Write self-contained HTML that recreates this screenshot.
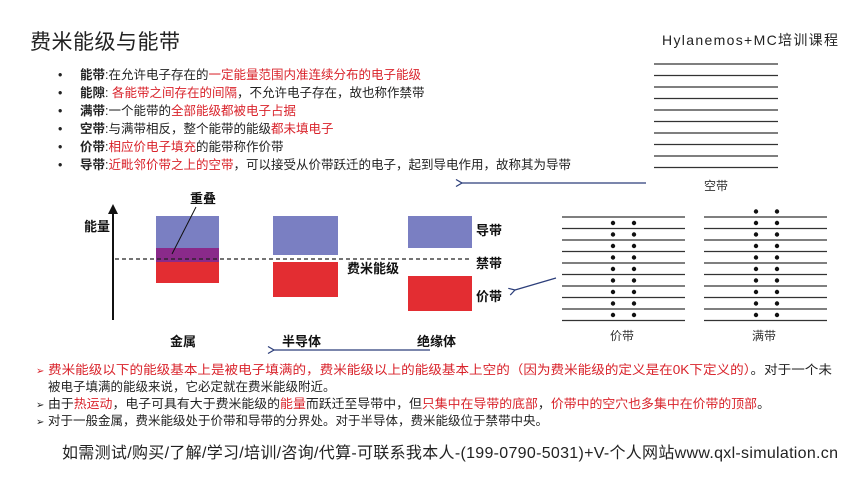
<!DOCTYPE html>
<html><head><meta charset="utf-8"><style>
html,body{margin:0;padding:0;background:#fff}
svg{display:block}
text{font-family:"Liberation Sans","Noto Sans CJK SC",sans-serif}
.r{fill:#d9232b}
.b{font-weight:bold}
</style></head><body>
<svg width="860" height="484" viewBox="0 0 860 484" xmlns="http://www.w3.org/2000/svg">
<defs>
<marker id="ah" markerWidth="8" markerHeight="8" refX="1" refY="4" orient="auto" markerUnits="userSpaceOnUse">
<path d="M7,0.5 L1,4 L7,7.5" fill="none" stroke="#2c3e7a" stroke-width="1.2"/></marker>
</defs>
<text x="30" y="49" font-size="21" fill="#222" textLength="150">费米能级与能带</text>
<text x="662" y="45" font-size="14" fill="#222" textLength="176">Hylanemos+MC培训课程</text>

<g font-size="12.5" fill="#222">
<text x="58" y="79">•</text><text x="80" y="79"><tspan class="b">能带</tspan>:在允许电子存在的<tspan class="r">一定能量范围内准连续分布的电子能级</tspan></text>
<text x="58" y="97">•</text><text x="80" y="97"><tspan class="b">能隙</tspan>: <tspan class="r">各能带之间存在的间隔</tspan>，不允许电子存在，故也称作禁带</text>
<text x="58" y="115">•</text><text x="80" y="115"><tspan class="b">满带</tspan>:一个能带的<tspan class="r">全部能级都被电子占据</tspan></text>
<text x="58" y="133">•</text><text x="80" y="133"><tspan class="b">空带</tspan>:与满带相反，整个能带的能级<tspan class="r">都未填电子</tspan></text>
<text x="58" y="151">•</text><text x="80" y="151"><tspan class="b">价带</tspan>:<tspan class="r">相应价电子填充</tspan>的能带称作价带</text>
<text x="58" y="169">•</text><text x="80" y="169"><tspan class="b">导带</tspan>:<tspan class="r">近毗邻价带之上的空带</tspan>，可以接受从价带跃迁的电子，起到导电作用，故称其为导带</text>
</g>

<line x1="646" y1="183" x2="462" y2="183" stroke="#2c3e7a" stroke-width="1.2" marker-end="url(#ah)"/>
<line x1="556" y1="278" x2="515" y2="290" stroke="#2c3e7a" stroke-width="1.2" marker-end="url(#ah)"/>
<line x1="430" y1="350" x2="274" y2="350" stroke="#2c3e7a" stroke-width="1.2" marker-end="url(#ah)"/>

<line x1="113" y1="320" x2="113" y2="212" stroke="#111" stroke-width="2"/>
<path d="M108,214 L113,204 L118,214Z" fill="#111"/>
<text x="84" y="231" font-size="13" fill="#111" font-weight="bold">能量</text>
<rect x="156" y="216" width="63" height="32" fill="#7a7fc2"/>
<rect x="156" y="248" width="63" height="14" fill="#8a2a8a"/>
<rect x="156" y="262" width="63" height="21" fill="#e32d32"/>
<rect x="273" y="216" width="65" height="39" fill="#7a7fc2"/>
<rect x="273" y="262" width="65" height="35" fill="#e32d32"/>
<rect x="408" y="216" width="64" height="32" fill="#7a7fc2"/>
<rect x="408" y="276" width="64" height="35" fill="#e32d32"/>
<line x1="115" y1="259" x2="472" y2="259" stroke="#222" stroke-width="1.2" stroke-dasharray="4,3"/>
<line x1="196" y1="207" x2="172" y2="254" stroke="#111" stroke-width="1"/>
<g font-size="13" fill="#111" font-weight="bold">
<text x="190" y="203">重叠</text>
<text x="347" y="273">费米能级</text>
<text x="476" y="235">导带</text>
<text x="476" y="268">禁带</text>
<text x="476" y="301">价带</text>
<text x="170" y="346">金属</text>
<text x="282" y="346">半导体</text>
<text x="417" y="346">绝缘体</text>
</g>

<g stroke="#333" stroke-width="1.2">
<line x1="654" x2="778" y1="64" y2="64"/><line x1="654" x2="778" y1="75.5" y2="75.5"/>
<line x1="654" x2="778" y1="87" y2="87"/><line x1="654" x2="778" y1="98.5" y2="98.5"/>
<line x1="654" x2="778" y1="110" y2="110"/><line x1="654" x2="778" y1="121.5" y2="121.5"/>
<line x1="654" x2="778" y1="133" y2="133"/><line x1="654" x2="778" y1="144.5" y2="144.5"/>
<line x1="654" x2="778" y1="156" y2="156"/><line x1="654" x2="778" y1="167.5" y2="167.5"/>
</g>
<text x="704" y="190" font-size="12" fill="#333">空带</text>

<g stroke="#333" stroke-width="1.2" id="vb">
<line x1="562" x2="685" y1="217" y2="217"/><line x1="562" x2="685" y1="228.5" y2="228.5"/>
<line x1="562" x2="685" y1="240" y2="240"/><line x1="562" x2="685" y1="251.5" y2="251.5"/>
<line x1="562" x2="685" y1="263" y2="263"/><line x1="562" x2="685" y1="274.5" y2="274.5"/>
<line x1="562" x2="685" y1="286" y2="286"/><line x1="562" x2="685" y1="297.5" y2="297.5"/>
<line x1="562" x2="685" y1="309" y2="309"/><line x1="562" x2="685" y1="320.5" y2="320.5"/>
</g>
<use href="#vb" x="142"/>
<g fill="#111">
<g id="dc"><circle cx="613" cy="223" r="2.2"/><circle cx="634" cy="223" r="2.2"/></g>
<use href="#dc" y="11.5"/><use href="#dc" y="23"/><use href="#dc" y="34.5"/><use href="#dc" y="46"/>
<use href="#dc" y="57.5"/><use href="#dc" y="69"/><use href="#dc" y="80.5"/><use href="#dc" y="92"/>
<g transform="translate(143,-11.5)"><use href="#dc"/><use href="#dc" y="11.5"/><use href="#dc" y="23"/><use href="#dc" y="34.5"/><use href="#dc" y="46"/>
<use href="#dc" y="57.5"/><use href="#dc" y="69"/><use href="#dc" y="80.5"/><use href="#dc" y="92"/><use href="#dc" y="103.5"/></g>
</g>
<text x="610" y="340" font-size="12" fill="#333">价带</text>
<text x="752" y="340" font-size="12" fill="#333">满带</text>

<g font-size="12.5" fill="#222">
<text x="36" y="374" fill="#d9232b" font-size="10">➢</text>
<text x="48" y="374" textLength="784" lengthAdjust="spacingAndGlyphs"><tspan class="r">费米能级以下的能级基本上是被电子填满的，费米能级以上的能级基本上空的（因为费米能级的定义是在0K下定义的）</tspan>。对于一个未</text>
<text x="48" y="391">被电子填满的能级来说，它必定就在费米能级附近。</text>
<text x="36" y="408" font-size="10">➢</text>
<text x="48" y="408" textLength="722" lengthAdjust="spacingAndGlyphs">由于<tspan class="r">热运动</tspan>，电子可具有大于费米能级的<tspan class="r">能量</tspan>而跃迁至导带中，但<tspan class="r">只集中在导带的底部</tspan>，<tspan class="r">价带中的空穴也多集中在价带的顶部</tspan>。</text>
<text x="36" y="425" font-size="10">➢</text>
<text x="48" y="425">对于一般金属，费米能级处于价带和导带的分界处。对于半导体，费米能级位于禁带中央。</text>
</g>
<text x="62" y="458" font-size="16" fill="#222" textLength="776">如需测试/购买/了解/学习/培训/咨询/代算-可联系我本人-(199-0790-5031)+V-个人网站www.qxl-simulation.cn</text>
</svg>
</body></html>
